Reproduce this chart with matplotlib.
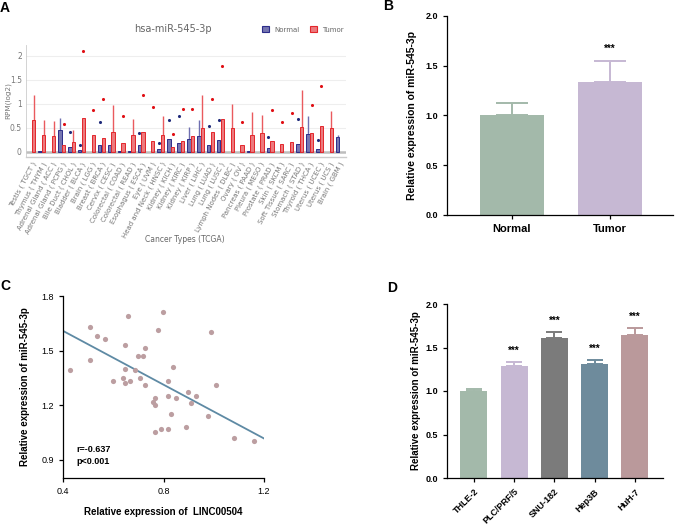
import numpy as np
import matplotlib
matplotlib.use("Agg")
import matplotlib.pyplot as plt
from matplotlib.patches import Patch
from matplotlib.ticker import FormatStrFormatter

nan = np.nan

# ---------------- Panel A data (TCGA) ----------------
cancer_types = ["Testis ( TGCT )", "Thymus ( THYM )", "Adrenal Gland ( ACC )", "Adrenal Gland ( PCPG )",
                "Bile Duct ( CHOL )", "Bladder ( BLCA )", "Brain ( LGG )", "Breast ( BRCA )",
                "Cervix ( CESC )", "Colorectal ( COAD )", "Colorectal ( READ )", "Esophagus ( ESCA )",
                "Eye ( UVM )", "Head and Neck ( HNSC )", "Kidney ( KICH )", "Kidney ( KIRC )",
                "Kidney ( KIRP )", "Liver ( LIHC )", "Lung ( LUAD )", "Lung ( LUSC )",
                "Lymph Nodes ( DLBC )", "Ovary ( OV )", "Pancreas ( PAAD )", "Pleura ( MESO )",
                "Prostate ( PRAD )", "Skin ( SKCM )", "Soft Tissue ( SARC )", "Stomach ( STAD )",
                "Thyroid ( THCA )", "Uterus ( UCEC )", "Uterus ( UCS )", "Brain ( GBM )"]
tumor_bar = [0.67, 0.35, 0.32, 0.14, 0.21, 0.70, 0.34, 0.28, 0.41, 0.19, 0.34, 0.42, 0.23, 0.34, 0.10, 0.22,
             0.32, 0.50, 0.42, 0.68, 0.50, 0.15, 0.34, 0.38, 0.22, 0.16, 0.21, 0.51, 0.39, 0.54, 0.49, nan]
tumor_whisker = [1.17, 0.66, 0.64, nan, 0.46, nan, nan, nan, 0.97, nan, 0.68, nan, nan, 0.74, nan, nan,
                 nan, 1.19, nan, nan, 1.00, nan, 0.82, 0.77, nan, nan, nan, 1.29, nan, nan, 0.85, nan]
tumor_dot = [nan, nan, nan, 0.58, nan, 2.10, 0.86, 1.10, nan, 0.74, nan, 1.17, 0.93, nan, 0.36, 0.88,
             0.89, nan, 1.10, 1.79, nan, 0.61, nan, nan, 0.86, 0.61, 0.81, nan, 0.98, 1.37, nan, nan]
normal_bar = [nan, 0.01, nan, 0.46, 0.10, 0.03, nan, 0.15, 0.14, 0.01, 0.01, 0.13, nan, 0.05, 0.26, 0.19,
              0.26, 0.32, 0.14, 0.25, nan, nan, 0.01, nan, 0.08, nan, nan, 0.17, 0.37, 0.06, nan, 0.30]
normal_whisker = [nan, nan, nan, 0.70, nan, nan, nan, nan, nan, nan, nan, nan, nan, nan, nan, nan,
                  0.51, 0.65, nan, nan, nan, nan, nan, nan, nan, nan, nan, nan, 0.74, nan, nan, 0.34]
normal_dot = [nan, nan, nan, nan, 0.41, 0.15, nan, 0.61, nan, nan, nan, 0.39, nan, 0.19, 0.66, 0.74,
              nan, nan, 0.53, 0.66, nan, nan, nan, nan, 0.30, nan, nan, 0.68, nan, 0.24, nan, nan]

# ---------------- Panel B data ----------------
b_groups = ["Normal", "Tumor"]
b_means = [1.00, 1.338]
b_err = [0.127, 0.207]

# ---------------- Panel C data ----------------
c_x = [0.427, 0.506, 0.506, 0.537, 0.568, 0.598, 0.637, 0.648, 0.648, 0.648, 0.657, 0.667, 0.688, 0.697,
       0.708, 0.718, 0.728, 0.728, 0.758, 0.767, 0.767, 0.767, 0.778, 0.789, 0.798, 0.818, 0.818, 0.818,
       0.828, 0.838, 0.848, 0.888, 0.899, 0.908, 0.929, 0.978, 0.988, 1.009, 1.079, 1.159]
c_y = [1.391, 1.630, 1.451, 1.581, 1.561, 1.331, 1.351, 1.532, 1.400, 1.320, 1.690, 1.331, 1.391, 1.472,
       1.351, 1.472, 1.512, 1.311, 1.220, 1.240, 1.200, 1.050, 1.612, 1.070, 1.711, 1.331, 1.251, 1.070,
       1.150, 1.411, 1.240, 1.081, 1.271, 1.211, 1.251, 1.139, 1.601, 1.311, 1.021, 1.001]
fit_slope = -0.739
fit_intercept = 1.904
c_stats = "r=-0.637\np<0.001"

# ---------------- Panel D data ----------------
d_lines = ["THLE-2", "PLC/PRF/5", "SNU-182", "Hep3B", "HuH-7"]
d_means = [0.996, 1.287, 1.609, 1.307, 1.648]
d_err = [0.024, 0.050, 0.069, 0.053, 0.072]
d_sig = ["", "***", "***", "***", "***"]

W, H = 676, 527
fig = plt.figure(figsize=(W / 100, H / 100), dpi=100)


def ax_px(l, t, r, b):
    return fig.add_axes([l / W, 1 - b / H, (r - l) / W, (b - t) / H])


def ftext(x, y, s, **kw):
    fig.text(x / W, 1 - y / H, s, **kw)


bold_font = "Liberation Sans"

# ================= Panel A =================
axA = ax_px(26, 45, 346, 157)
xA = np.arange(len(cancer_types))
red_edge, red_face = "#e3262b", (0.91, 0.35, 0.37, 0.8)
blue_edge, blue_face = "#2d2d8a", (0.33, 0.33, 0.62, 0.8)
off, bw = 0.18, 0.34
for yv in [0.5, 1.0, 1.5, 2.0]:
    axA.axhline(yv, color="#eeeeee", lw=0.8, zorder=0)
axA.axhline(0, color="#bdbdbd", lw=1.8, zorder=1)
axA.vlines(xA - off, normal_bar, normal_whisker, color="#6f6fb0", lw=1.0, zorder=2)
axA.vlines(xA + off, tumor_bar, tumor_whisker, color="#ea5a5e", lw=1.0, zorder=2)
axA.bar(xA - off, normal_bar, width=bw, color=blue_face, edgecolor=blue_edge, lw=0.7, zorder=3)
axA.bar(xA + off, tumor_bar, width=bw, color=red_face, edgecolor=red_edge, lw=0.7, zorder=3)
axA.scatter(xA - off, normal_dot, s=5, color="#1f2a7a", zorder=4, lw=0)
axA.scatter(xA + off, tumor_dot, s=5, color="#e00f14", zorder=4, lw=0)
axA.set_xlim(-0.6, 31.65)
axA.set_ylim(-0.11, 2.22)
axA.set_yticks([0, 0.5, 1, 1.5, 2])
axA.set_yticklabels(["0", "0.5", "1", "1.5", "2"], fontsize=5.5, color="#777777")
axA.set_xticks(xA)
axA.set_xticklabels(cancer_types, rotation=62, ha="right", rotation_mode="anchor",
                    fontsize=5, color="#777777")
axA.tick_params(length=0, pad=3)
for s in ["top", "right"]:
    axA.spines[s].set_visible(False)
axA.spines["left"].set_color("#cccccc")
axA.spines["bottom"].set_color("#cccccc")
axA.spines["left"].set_linewidth(0.6)
axA.spines["bottom"].set_linewidth(1.0)
axA.set_ylabel("RPM(log2)", fontsize=5.2, color="#777777")
axA.yaxis.set_label_coords(-0.046, 0.5)
ftext(173, 29, "hsa-miR-545-3p", fontsize=7, color="#666666", ha="center", va="center")
ftext(185, 239, "Cancer Types (TCGA)", fontsize=5.5, color="#666666", ha="center", va="center")
axA.legend(handles=[Patch(facecolor=blue_face, edgecolor=blue_edge, lw=0.8, label="Normal"),
                    Patch(facecolor=red_face, edgecolor=red_edge, lw=0.8, label="Tumor")],
           loc="center left", bbox_to_anchor=(256 / W, 1 - 29.5 / H), bbox_transform=fig.transFigure,
           ncol=2, frameon=False, fontsize=5, handlelength=0.9, handleheight=0.9,
           handletextpad=0.8, columnspacing=1.6, labelcolor="#666666")


def style_prism(ax):
    for s in ["top", "right"]:
        ax.spines[s].set_visible(False)
    for s in ["left", "bottom"]:
        ax.spines[s].set_linewidth(0.9)
    ax.tick_params(width=0.9, length=3)


# ================= Panel B =================
axB = ax_px(447, 16, 673, 215)
b_colors = ["#a3b9aa", "#c6b8d3"]
xB = np.arange(len(b_groups))
axB.bar(xB, b_means, width=0.66, color=b_colors, zorder=2)
for xi, m, e, c in zip(xB, b_means, b_err, b_colors):
    axB.errorbar(xi, m, yerr=[[0], [e]], color=c, capsize=11.5, elinewidth=1.4, capthick=1.4, zorder=1)
axB.text(1, b_means[1] + b_err[1] + 0.12, "***", ha="center", va="center", fontsize=7,
         fontweight="bold", family=bold_font)
axB.set_xlim(-0.663, 1.643)
axB.set_ylim(0, 2.0)
axB.set_yticks([0, 0.5, 1.0, 1.5, 2.0])
axB.yaxis.set_major_formatter(FormatStrFormatter("%.1f"))
axB.set_xticks(xB)
axB.set_xticklabels(b_groups, fontsize=8, fontweight="bold", family=bold_font)
for t in axB.get_yticklabels():
    t.set_fontsize(6.5); t.set_fontweight("bold"); t.set_family(bold_font)
style_prism(axB)
axB.set_ylabel("Relative expression of miR-545-3p", fontsize=7.5, fontweight="bold",
               family=bold_font, labelpad=6)

# ================= Panel C =================
axC = ax_px(63, 296, 264, 478)
axC.scatter(c_x, c_y, s=14, color="#bc9ea1", lw=0, zorder=3)
xl = np.array([0.4, 1.2])
axC.plot(xl, fit_intercept + fit_slope * xl, color="#5e8aa4", lw=1.3, zorder=2)
axC.text(0.455, 0.925, c_stats, fontsize=6.5, fontweight="bold", family=bold_font,
         ha="left", va="center", linespacing=1.5)
axC.set_xlim(0.4, 1.2)
axC.set_ylim(0.8, 1.8)
axC.set_xticks([0.4, 0.8, 1.2])
axC.set_yticks([0.9, 1.2, 1.5, 1.8])
axC.xaxis.set_major_formatter(FormatStrFormatter("%.1f"))
axC.yaxis.set_major_formatter(FormatStrFormatter("%.1f"))
for t in axC.get_xticklabels() + axC.get_yticklabels():
    t.set_fontsize(6.5); t.set_family(bold_font)
style_prism(axC)
axC.set_ylabel("Relative expression of miR-545-3p", fontsize=7, fontweight="bold",
               family=bold_font, labelpad=8)
axC.set_xlabel("Relative expression of  LINC00504", fontsize=7, fontweight="bold",
               family=bold_font, labelpad=8)

# ================= Panel D =================
axD = ax_px(447, 304, 663, 478)
d_colors = ["#a3b9aa", "#c6b8d3", "#7b7b7b", "#6e8b9c", "#ba999b"]
xD = np.arange(len(d_lines))
axD.bar(xD, d_means, width=0.67, color=d_colors, zorder=2)
for xi, m, e, c, sg in zip(xD, d_means, d_err, d_colors, d_sig):
    axD.errorbar(xi, m, yerr=[[0], [e]], color=c, capsize=5.5, elinewidth=1.4, capthick=1.4, zorder=1)
    if sg:
        axD.text(xi, m + e + 0.13, sg, ha="center", va="center", fontsize=7,
                 fontweight="bold", family=bold_font)
axD.set_xlim(-0.67, 4.7)
axD.set_ylim(0, 2.0)
axD.set_yticks([0, 0.5, 1.0, 1.5, 2.0])
axD.yaxis.set_major_formatter(FormatStrFormatter("%.1f"))
axD.set_xticks(xD)
axD.set_xticklabels(d_lines, rotation=45, ha="right", rotation_mode="anchor",
                    fontsize=6.5, fontweight="bold", family=bold_font)
for t in axD.get_yticklabels():
    t.set_fontsize(6.5); t.set_fontweight("bold"); t.set_family(bold_font)
style_prism(axD)
axD.set_ylabel("Relative expression of miR-545-3p", fontsize=7, fontweight="bold",
               family=bold_font, labelpad=3)

# panel letters
for lbl, (px, py) in zip("ABCD", [(5, 8), (388, 6), (5, 286), (392, 288)]):
    ftext(px, py, lbl, fontsize=10, fontweight="bold", family=bold_font, ha="center", va="center")

fig.savefig("out.png", dpi=100)
